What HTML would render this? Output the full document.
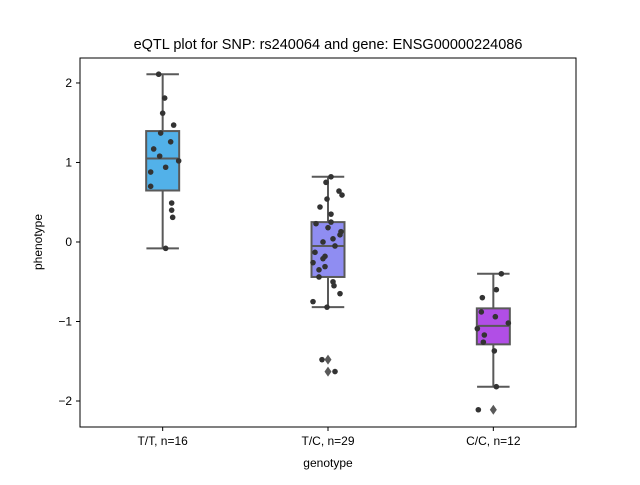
<!DOCTYPE html>
<html><head><meta charset="utf-8"><style>
body{margin:0;background:#fff}
svg text{font-family:"Liberation Sans","DejaVu Sans",sans-serif;fill:#000}
</style></head><body>
<svg id="c" width="640" height="480" xmlns="http://www.w3.org/2000/svg"></svg>
<script>
const categories=["T/T, n=16","T/C, n=29","C/C, n=12"];
const colors=["#52b1e9","#8f8df2","#b14ee6"];
const seriesTT=[2.11,1.81,1.62,1.47,1.37,1.17,1.26,1.08,1.02,0.94,0.88,0.70,0.49,0.40,0.31,-0.08];
const seriesTC=[0.82,0.75,0.64,0.59,0.54,0.44,0.35,0.25,0.23,0.18,0.13,0.09,0.04,0,-0.05,-0.13,-0.18,-0.21,-0.26,-0.31,-0.35,-0.44,-0.50,-0.55,-0.65,-0.75,-0.82,-1.48,-1.63];
const seriesCC=[-0.40,-0.60,-0.70,-0.88,-0.94,-1.02,-1.09,-1.17,-1.26,-1.37,-1.82,-2.11];
const jitterTT=[-4,2,0,11,-2,-9,8,-3,16,3,-12,-12,9,9,10,3];
const jitterTC=[3,-2,11,14,-1,-8,3,3,-12,0,13,12,5,-5,7,-13,-3,-5,-15,-3,-9,-9,5,6,12,-15,-1,-6,7];
const jitterCC=[8,3,-11,-12,2,15,-16,-9,-10,1,3,-15];
const yTicks=[-2,-1,0,1,2];
const L=80,R=576,T=58,B=427;
const yMin=-2.327,yMax=2.314;
const X=i=>L+(i+0.5)*(R-L)/3;
const Y=v=>B-(v-yMin)/(yMax-yMin)*(B-T);
const svg=document.getElementById('c');
const NS='http://www.w3.org/2000/svg';
function mk(tag,attrs,parent){const e=document.createElementNS(NS,tag);for(const k in attrs)e.setAttribute(k,attrs[k]);(parent||svg).appendChild(e);return e;}
function q(a,p){const s=[...a].sort((x,y)=>x-y);const i=(s.length-1)*p;const lo=Math.floor(i),hi=Math.ceil(i);return s[lo]+(s[hi]-s[lo])*(i-lo);}
const all=[seriesTT,seriesTC,seriesCC],jit=[jitterTT,jitterTC,jitterCC];
const bw=33,gray="#595959";
all.forEach((d,i)=>{
  const g=mk('g',{});
  
  
  const q1=q(d,.25),q2=q(d,.5),q3=q(d,.75),iqr=q3-q1;
  const lo=Math.min(...d.filter(v=>v>=q1-1.5*iqr)),hi=Math.max(...d.filter(v=>v<=q3+1.5*iqr));
  const cx=X(i);
  mk('line',{x1:cx,x2:cx,y1:Y(q3),y2:Y(hi),stroke:gray,'stroke-width':2},g);
  mk('line',{x1:cx,x2:cx,y1:Y(q1),y2:Y(lo),stroke:gray,'stroke-width':2},g);
  mk('line',{x1:cx-bw/4-8,x2:cx+bw/4+8,y1:Y(hi),y2:Y(hi),stroke:gray,'stroke-width':2},g);
  mk('line',{x1:cx-bw/4-8,x2:cx+bw/4+8,y1:Y(lo),y2:Y(lo),stroke:gray,'stroke-width':2},g);
  mk('rect',{x:cx-bw/2,y:Y(q3),width:bw,height:Y(q1)-Y(q3),fill:colors[i],stroke:gray,'stroke-width':2},g);
  mk('line',{x1:cx-bw/2,x2:cx+bw/2,y1:Y(q2),y2:Y(q2),stroke:gray,'stroke-width':2},g);
  d.forEach(v=>{if(v<lo||v>hi){const y=Y(v);mk('path',{d:`M${cx} ${y-5}L${cx+3.5} ${y}L${cx} ${y+5}L${cx-3.5} ${y}Z`,fill:gray},g);}});
  d.forEach((v,j)=>{const p=mk('circle',{cx:cx+jit[i][j],cy:Y(v),r:2.8,fill:'#333'},g);
    
    });
});
const ax=mk('rect',{x:L,y:T,width:R-L,height:B-T,fill:'none',stroke:'#000','stroke-width':1});


yTicks.forEach(t=>{const y=Y(t);mk('line',{x1:L-4,x2:L,y1:y,y2:y,stroke:'#000'});
  const tx=mk('text',{x:L-8,y:y+4,'text-anchor':'end','font-size':12});tx.textContent=t<0?'\u2212'+(-t):t;
  
  });
categories.forEach((c,i)=>{const x=X(i);mk('line',{x1:x,x2:x,y1:B,y2:B+4,stroke:'#000'});
  const tx=mk('text',{x:x,y:B+18,'text-anchor':'middle','font-size':12});tx.textContent=c;
  
  });
const tt=mk('text',{x:328,y:49,'text-anchor':'middle','font-size':14.5});tt.textContent='eQTL plot for SNP: rs240064 and gene: ENSG00000224086';


const xl=mk('text',{x:328,y:467,'text-anchor':'middle','font-size':12});xl.textContent='genotype';


const yl=mk('text',{x:42,y:242,'text-anchor':'middle','font-size':12,transform:'rotate(-90 42 242)'});yl.textContent='phenotype';


</script>
</body></html>
